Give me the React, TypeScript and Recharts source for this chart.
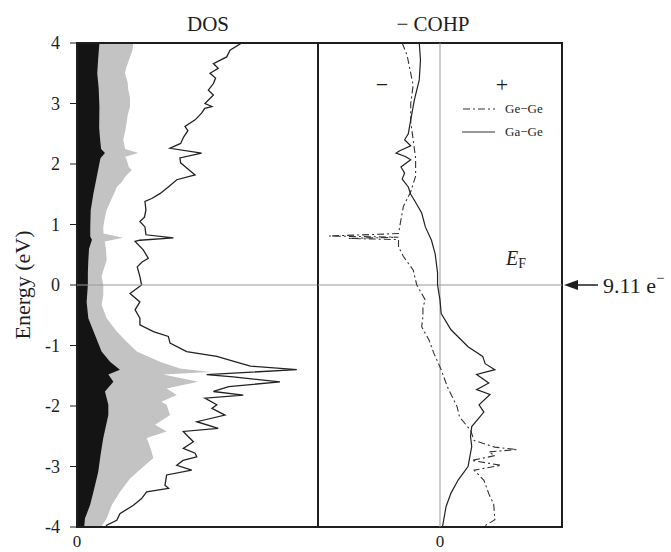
import React from 'react';
import { ComposedChart, Line, Area, XAxis, YAxis, ReferenceLine, ReferenceArea } from 'recharts';

// ---- DOS (left panel) ----
const totalE = [4.0, 3.88, 3.77, 3.66, 3.58, 3.5, 3.42, 3.33, 3.22, 3.14, 3.0, 2.95, 2.92, 2.84, 2.73, 2.62, 2.55, 2.45, 2.34, 2.26, 2.18, 2.1, 2.02, 1.96, 1.82, 1.74, 1.62, 1.51, 1.43, 1.38, 1.24, 1.12, 1.05, 0.96, 0.83, 0.78, 0.74, 0.72, 0.58, 0.44, 0.38, 0.3, 0.14, 0.0, -0.14, -0.28, -0.41, -0.55, -0.66, -0.77, -0.85, -0.96, -1.1, -1.18, -1.29, -1.34, -1.4, -1.48, -1.52, -1.6, -1.68, -1.76, -1.82, -1.87, -1.98, -2.04, -2.15, -2.26, -2.37, -2.42, -2.5, -2.59, -2.7, -2.78, -2.84, -2.9, -2.98, -3.06, -3.14, -3.31, -3.36, -3.42, -3.53, -3.64, -3.78, -3.89, -3.97, -4.0];
const totalDos = [6.83, 6.35, 6.21, 5.66, 5.86, 5.52, 5.75, 5.66, 5.45, 5.66, 5.31, 5.6, 5.3, 5.17, 4.9, 4.48, 4.6, 4.43, 4.3, 3.86, 5.17, 4.27, 4.3, 4.48, 4.9, 4.14, 3.79, 3.44, 3.1, 2.82, 2.86, 2.8, 2.61, 2.82, 2.86, 4.0, 2.6, 2.41, 2.75, 2.96, 2.7, 2.5, 2.61, 2.68, 2.2, 2.61, 2.41, 2.61, 2.61, 3.17, 3.79, 3.86, 4.55, 5.8, 6.76, 7.2, 9.12, 5.38, 6.48, 8.42, 6.3, 5.66, 6.9, 5.31, 5.8, 5.6, 6.14, 4.97, 5.86, 4.41, 4.6, 4.83, 4.41, 4.9, 4.97, 4.4, 4.14, 4.76, 3.72, 3.65, 3.8, 2.89, 2.68, 2.34, 1.78, 1.65, 1.23, 1.2];

const grayE = [4.0, 3.88, 3.77, 3.6, 3.5, 3.35, 3.22, 3.1, 2.95, 2.8, 2.68, 2.55, 2.4, 2.25, 2.18, 2.12, 2.07, 1.95, 1.9, 1.79, 1.7, 1.62, 1.52, 1.43, 1.3, 1.24, 1.1, 0.96, 0.85, 0.78, 0.72, 0.6, 0.41, 0.25, 0.14, 0.0, -0.17, -0.33, -0.55, -0.77, -0.94, -1.1, -1.27, -1.38, -1.44, -1.48, -1.6, -1.71, -1.82, -1.93, -1.98, -2.15, -2.31, -2.42, -2.53, -2.7, -2.86, -3.03, -3.2, -3.42, -3.64, -3.86, -4.0];
const grayDos = [2.34, 2.3, 2.2, 2.05, 1.99, 2.1, 2.13, 2.2, 2.2, 2.1, 2.06, 2.0, 1.92, 2.0, 2.54, 2.0, 2.06, 2.15, 2.27, 2.0, 1.85, 1.65, 1.55, 1.44, 1.3, 1.23, 1.15, 1.09, 1.1, 1.92, 1.15, 1.2, 1.23, 1.1, 1.02, 1.09, 1.09, 1.02, 1.23, 1.65, 2.06, 2.48, 3.44, 4.27, 5.52, 3.58, 5.03, 3.72, 4.14, 3.5, 3.72, 3.86, 3.24, 3.72, 2.89, 3.05, 3.17, 2.68, 2.2, 1.78, 1.44, 1.23, 1.0];

const blackE = [4.0, 3.75, 3.5, 3.25, 2.95, 2.6, 2.4, 2.25, 2.18, 2.1, 2.07, 1.79, 1.51, 1.24, 0.96, 0.8, 0.75, 0.6, 0.41, 0.2, 0.0, -0.28, -0.55, -0.83, -1.1, -1.27, -1.4, -1.48, -1.6, -1.76, -1.98, -2.15, -2.53, -2.8, -3.09, -3.42, -3.64, -3.86, -4.0];
const blackDos = [0.93, 0.88, 0.84, 0.9, 0.93, 0.92, 0.96, 1.0, 1.16, 0.98, 0.96, 0.82, 0.68, 0.57, 0.55, 0.55, 0.62, 0.5, 0.47, 0.45, 0.45, 0.4, 0.47, 0.75, 1.02, 1.37, 1.78, 1.3, 1.51, 1.16, 1.3, 1.3, 1.09, 0.98, 0.88, 0.68, 0.54, 0.33, 0.3];

// ---- -COHP (right panel) ----
const gaGeE = [4.0, 3.72, 3.39, 3.06, 2.73, 2.5, 2.4, 2.3, 2.22, 2.18, 2.12, 2.07, 1.95, 1.85, 1.75, 1.62, 1.5, 1.4, 1.19, 0.96, 0.74, 0.52, 0.2, 0.0, -0.25, -0.47, -0.74, -1.02, -1.18, -1.3, -1.4, -1.48, -1.62, -1.73, -1.81, -1.98, -2.1, -2.17, -2.34, -2.5, -2.67, -2.89, -3.0, -3.22, -3.44, -3.66, -4.0];
const gaGeCohp = [-0.17, -0.16, -0.17, -0.21, -0.24, -0.26, -0.29, -0.24, -0.33, -0.36, -0.28, -0.24, -0.32, -0.29, -0.31, -0.26, -0.24, -0.21, -0.15, -0.12, -0.07, -0.04, -0.02, -0.02, 0.0, 0.01, 0.09, 0.23, 0.35, 0.37, 0.45, 0.3, 0.4, 0.3, 0.41, 0.32, 0.36, 0.33, 0.26, 0.25, 0.26, 0.24, 0.23, 0.15, 0.09, 0.05, 0.02];

const geGeE = [4.0, 3.8, 3.6, 3.3, 3.0, 2.7, 2.4, 2.1, 1.8, 1.54, 1.3, 1.08, 0.85, 0.81, 0.79, 0.77, 0.75, 0.63, 0.47, 0.25, 0.08, 0.0, -0.25, -0.36, -0.52, -0.69, -0.91, -1.13, -1.4, -1.68, -2.01, -2.18, -2.4, -2.57, -2.68, -2.72, -2.76, -2.82, -2.9, -2.98, -3.06, -3.23, -3.45, -3.62, -3.88, -4.0];
const geGeCohp = [-0.31, -0.27, -0.25, -0.22, -0.24, -0.24, -0.22, -0.2, -0.2, -0.24, -0.3, -0.32, -0.34, -0.91, -0.34, -0.75, -0.34, -0.34, -0.3, -0.22, -0.2, -0.19, -0.12, -0.14, -0.14, -0.15, -0.09, -0.05, 0.01, 0.06, 0.14, 0.16, 0.25, 0.28, 0.45, 0.63, 0.4, 0.45, 0.26, 0.5, 0.28, 0.36, 0.4, 0.44, 0.45, 0.35];

const energyTicks = [-4, -3, -2, -1, 0, 1, 2, 3, 4];

const zip = (es: number[], vs: number[]) => es.map((e, i) => ({ e, v: vs[i] }));
const totalData = zip(totalE, totalDos);
const grayData = zip(grayE, grayDos);
const blackData = zip(blackE, blackDos);
const gaGeData = zip(gaGeE, gaGeCohp);
const geGeData = zip(geGeE, geGeCohp);

const SERIF = 'Liberation Serif, Times New Roman, Times, serif';
const INK = '#1e1e1e';

export default function App() {
  return (
    <div style={{ position: 'absolute', left: 0, top: 0, width: 671, height: 552, background: '#fff', fontFamily: SERIF }}>
      <div style={{ position: 'absolute', left: 0, top: 0 }}>
        <ComposedChart width={320} height={552} layout="vertical" margin={{ top: 43, right: 2, bottom: 0, left: 0 }}>
          <XAxis type="number" domain={[0, 10]} ticks={[0]} allowDataOverflow tickLine={false} axisLine={false} height={25}
            tick={{ fontSize: 17, fontFamily: SERIF, fill: INK }} />
          <YAxis type="number" dataKey="e" domain={[-4, 4]} ticks={energyTicks} allowDataOverflow reversed width={77}
            axisLine={false} tickSize={7} tickMargin={10} tickLine={{ stroke: INK }}
            tick={{ fontSize: 18, fontFamily: SERIF, fill: INK }} />
          <Area data={grayData} dataKey="v" type="linear" stroke="none" fill="#c3c3c3" fillOpacity={1} isAnimationActive={false} />
          <Area data={blackData} dataKey="v" type="linear" stroke="none" fill="#141414" fillOpacity={1} isAnimationActive={false} />
          <Line data={totalData} dataKey="v" type="linear" stroke="#222" strokeWidth={1.3} dot={false} isAnimationActive={false} />
          <ReferenceLine y={0} stroke="#999" strokeWidth={1} />
          <ReferenceArea x1={0} x2={10} y1={-4} y2={4} fill="none" stroke={INK} strokeWidth={2} />
        </ComposedChart>
      </div>
      <div style={{ position: 'absolute', left: 317, top: 0 }}>
        <ComposedChart width={354} height={552} layout="vertical" margin={{ top: 43, right: 109, bottom: 0, left: 1 }}>
          <XAxis type="number" domain={[-1, 1]} ticks={[0]} allowDataOverflow tickLine={false} axisLine={false} height={25}
            tick={{ fontSize: 17, fontFamily: SERIF, fill: INK }} />
          <YAxis type="number" dataKey="e" domain={[-4, 4]} allowDataOverflow reversed hide />
          <ReferenceLine x={0} stroke="#999" strokeWidth={1} />
          <ReferenceLine y={0} stroke="#999" strokeWidth={1} />
          <Line data={geGeData} dataKey="v" type="linear" stroke="#333" strokeWidth={1.1} strokeDasharray="7 3 2 3" dot={false} isAnimationActive={false} />
          <Line data={gaGeData} dataKey="v" type="linear" stroke="#222" strokeWidth={1.2} dot={false} isAnimationActive={false} />
          <ReferenceArea x1={-1} x2={1} y1={-4} y2={4} fill="none" stroke={INK} strokeWidth={2} />
        </ComposedChart>
      </div>
      <svg width={671} height={552} style={{ position: 'absolute', left: 0, top: 0, pointerEvents: 'none' }}>
        <g style={{ fontFamily: SERIF }} fill={INK}>
          <text x={208} y={31} fontSize={21} textAnchor="middle">DOS</text>
          <text x={433} y={31} fontSize={21} textAnchor="middle">− COHP</text>
          <text x={0} y={0} fontSize={22} textAnchor="middle" transform="translate(30,285) rotate(-90)">Energy (eV)</text>
          <text x={382} y={92} fontSize={22} textAnchor="middle">−</text>
          <text x={502} y={92} fontSize={22} textAnchor="middle">+</text>
          <line x1={463} y1={109} x2={495} y2={109} stroke="#333" strokeWidth={1.2} strokeDasharray="7 3 2 3" />
          <text x={505} y={113} fontSize={13}>Ge−Ge</text>
          <line x1={462} y1={132} x2={495} y2={132} stroke="#333" strokeWidth={1.2} />
          <text x={505} y={136} fontSize={13}>Ga−Ge</text>
          <text x={506} y={265} fontSize={20}>
            <tspan fontStyle="italic">E</tspan>
            <tspan fontSize={14} dy={3}>F</tspan>
          </text>
          <line x1={574} y1={285} x2={598} y2={285} stroke={INK} strokeWidth={1.5} />
          <polygon points="564,285 578,280 578,290" fill={INK} />
          <text x={603} y={293} fontSize={22}>
            9.11 e<tspan fontSize={15} dy={-10}>−</tspan>
          </text>
        </g>
      </svg>
    </div>
  );
}
